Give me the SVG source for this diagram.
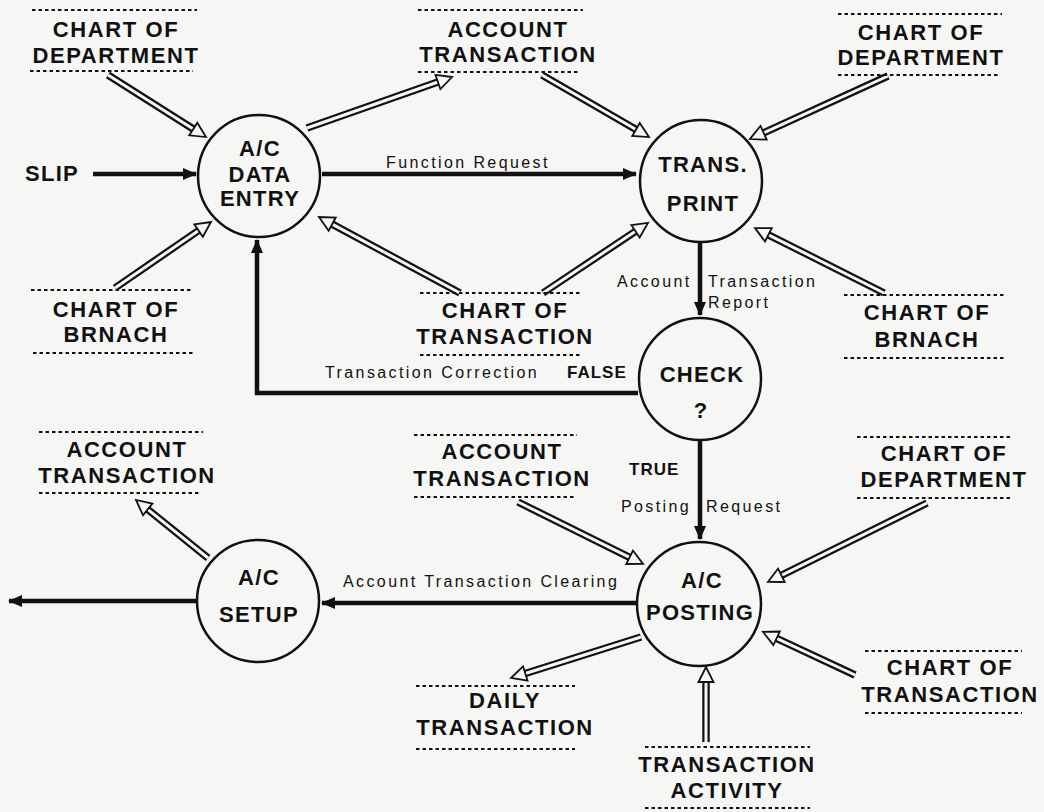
<svg xmlns="http://www.w3.org/2000/svg" width="1044" height="812" viewBox="0 0 1044 812">
<style>
text{font-family:"Liberation Sans",Arial,sans-serif;fill:#111}
.st{font-size:22px;font-weight:bold;letter-spacing:1.6px;text-anchor:middle}
.nd{font-size:22px;font-weight:bold;letter-spacing:1.3px;text-anchor:middle}
.lb{font-size:16px;letter-spacing:2.4px}
.bl{font-size:17px;font-weight:bold;letter-spacing:1px}
.dot{stroke:#111;stroke-width:2.2;stroke-dasharray:3.5 3;fill:none}
.c{fill:none;stroke:#111;stroke-width:2.5}
.so{stroke:#111;stroke-width:4.5;fill:none;marker-end:url(#fa)}
.ho{stroke:#111;stroke-width:7.5;fill:none}
.hi{stroke:#f6f6f4;stroke-width:3;fill:none;marker-end:url(#ha)}
</style>
<defs>
<marker id="fa" markerUnits="userSpaceOnUse" viewBox="-14 -7 16 14" refX="0" refY="0" markerWidth="16" markerHeight="14" orient="auto">
<polygon points="-13,-6 1,0 -13,6" fill="#111"/>
</marker>
<marker id="ha" markerUnits="userSpaceOnUse" viewBox="-2 -10 20 20" refX="0" refY="0" markerWidth="20" markerHeight="20" orient="auto" overflow="visible">
<polygon points="0,-7.5 15,0 0,7.5" fill="#f6f6f4" stroke="#111" stroke-width="1.8" stroke-linejoin="miter"/>
</marker>
</defs>
<rect width="1044" height="812" fill="#f6f6f4"/>

<g id="connectors">
<line class="so" x1="93" y1="174" x2="196" y2="174"/>
<line class="so" x1="322" y1="174" x2="636" y2="174"/>
<line class="so" x1="700" y1="243" x2="700" y2="315"/>
<line class="so" x1="700" y1="441" x2="700" y2="539"/>
<polyline class="so" points="638,393 257,393 257,240"/>
<line class="so" x1="637" y1="603" x2="322" y2="603"/>
<line class="so" x1="197" y1="601" x2="9" y2="601"/>
<path class="ho" d="M108,75 L193.3,129"/><path class="hi" d="M108,75 L193.3,129"/>
<path class="ho" d="M115,288 L198.6,230.5"/><path class="hi" d="M115,288 L198.6,230.5"/>
<path class="ho" d="M307,128 L437.9,82"/><path class="hi" d="M307,128 L437.9,82"/>
<path class="ho" d="M542,75 L636,129.5"/><path class="hi" d="M542,75 L636,129.5"/>
<path class="ho" d="M460,293 L332.2,224.1"/><path class="hi" d="M460,293 L332.2,224.1"/>
<path class="ho" d="M543,293 L635.5,231.3"/><path class="hi" d="M543,293 L635.5,231.3"/>
<path class="ho" d="M888,76 L763.6,132.8"/><path class="hi" d="M888,76 L763.6,132.8"/>
<path class="ho" d="M884,293 L768.4,234.8"/><path class="hi" d="M884,293 L768.4,234.8"/>
<path class="ho" d="M208,558 L147.7,509.4"/><path class="hi" d="M208,558 L147.7,509.4"/>
<path class="ho" d="M518,502 L629.6,557.3"/><path class="hi" d="M518,502 L629.6,557.3"/>
<path class="ho" d="M927,503 L781.4,575.3"/><path class="hi" d="M927,503 L781.4,575.3"/>
<path class="ho" d="M855,675 L776.6,638.3"/><path class="hi" d="M855,675 L776.6,638.3"/>
<path class="ho" d="M641,637 L525.3,673.5"/><path class="hi" d="M641,637 L525.3,673.5"/>
<path class="ho" d="M706,742 L706,682"/><path class="hi" d="M706,742 L706,682"/>
<text class="lb" x="386" y="168">Function Request</text>
<text class="lb" x="617" y="287">Account</text>
<text class="lb" x="708" y="287">Transaction</text>
<text class="lb" x="708" y="308">Report</text>
<text class="lb" x="325" y="378">Transaction Correction</text>
<text class="bl" x="567" y="378">FALSE</text>
<text class="bl" x="629" y="475">TRUE</text>
<text class="lb" x="621" y="512">Posting</text>
<text class="lb" x="706" y="512">Request</text>
<text class="lb" x="343" y="587">Account Transaction Clearing</text>
</g>

<g id="slip"><text class="nd" x="25" y="181" style="text-anchor:start">SLIP</text></g>

<g id="n-data-entry">
<circle class="c" cx="259" cy="176" r="61"/>
<text class="nd" x="260" y="156">A/C</text>
<text class="nd" x="260" y="182">DATA</text>
<text class="nd" x="260" y="206">ENTRY</text>
</g>
<g id="n-trans-print">
<circle class="c" cx="701" cy="181" r="61"/>
<text class="nd" x="703" y="172">TRANS.</text>
<text class="nd" x="703" y="211">PRINT</text>
</g>
<g id="n-check">
<circle class="c" cx="700" cy="379" r="61"/>
<text class="nd" x="702" y="382">CHECK</text>
<text class="nd" x="701" y="418">?</text>
</g>
<g id="n-posting">
<circle class="c" cx="699" cy="604" r="62"/>
<text class="nd" x="702" y="588">A/C</text>
<text class="nd" x="700" y="620">POSTING</text>
</g>
<g id="n-setup">
<circle class="c" cx="258" cy="601" r="61"/>
<text class="nd" x="259" y="585">A/C</text>
<text class="nd" x="259" y="622">SETUP</text>
</g>

<g id="s-dept-1">
<line class="dot" x1="32" y1="10" x2="197" y2="10"/>
<text class="st" x="116" y="37">CHART OF</text>
<text class="st" x="116" y="63">DEPARTMENT</text>
<line class="dot" x1="30" y1="71" x2="193" y2="71"/>
</g>
<g id="s-acct-1">
<line class="dot" x1="418" y1="10" x2="583" y2="10"/>
<text class="st" x="508" y="37">ACCOUNT</text>
<text class="st" x="508" y="62">TRANSACTION</text>
<line class="dot" x1="418" y1="72" x2="580" y2="72"/>
</g>
<g id="s-dept-2">
<line class="dot" x1="838" y1="14" x2="1002" y2="14"/>
<text class="st" x="921" y="40">CHART OF</text>
<text class="st" x="921" y="65">DEPARTMENT</text>
<line class="dot" x1="838" y1="75" x2="1000" y2="75"/>
</g>
<g id="s-branch-1">
<line class="dot" x1="31" y1="290" x2="192" y2="290"/>
<text class="st" x="116" y="317">CHART OF</text>
<text class="st" x="116" y="342">BRNACH</text>
<line class="dot" x1="33" y1="353" x2="193" y2="353"/>
</g>
<g id="s-trans-1">
<line class="dot" x1="420" y1="293" x2="582" y2="293"/>
<text class="st" x="505" y="318">CHART OF</text>
<text class="st" x="505" y="344">TRANSACTION</text>
<line class="dot" x1="420" y1="355" x2="582" y2="355"/>
</g>
<g id="s-branch-2">
<line class="dot" x1="844" y1="295" x2="1004" y2="295"/>
<text class="st" x="927" y="320">CHART OF</text>
<text class="st" x="927" y="347">BRNACH</text>
<line class="dot" x1="844" y1="358" x2="1004" y2="358"/>
</g>
<g id="s-acct-2">
<line class="dot" x1="39" y1="432" x2="203" y2="432"/>
<text class="st" x="127" y="457">ACCOUNT</text>
<text class="st" x="127" y="483">TRANSACTION</text>
<line class="dot" x1="39" y1="493" x2="201" y2="493"/>
</g>
<g id="s-acct-3">
<line class="dot" x1="414" y1="435" x2="577" y2="435"/>
<text class="st" x="502" y="459">ACCOUNT</text>
<text class="st" x="502" y="486">TRANSACTION</text>
<line class="dot" x1="414" y1="497" x2="575" y2="497"/>
</g>
<g id="s-dept-3">
<line class="dot" x1="857" y1="437" x2="1013" y2="437"/>
<text class="st" x="944" y="461">CHART OF</text>
<text class="st" x="944" y="487">DEPARTMENT</text>
<line class="dot" x1="857" y1="498" x2="1013" y2="498"/>
</g>
<g id="s-daily">
<line class="dot" x1="416" y1="686" x2="575" y2="686"/>
<text class="st" x="505" y="708">DAILY</text>
<text class="st" x="505" y="735">TRANSACTION</text>
<line class="dot" x1="416" y1="749" x2="575" y2="749"/>
</g>
<g id="s-trans-2">
<line class="dot" x1="865" y1="651" x2="1022" y2="651"/>
<text class="st" x="950" y="675">CHART OF</text>
<text class="st" x="950" y="702">TRANSACTION</text>
<line class="dot" x1="865" y1="713" x2="1022" y2="713"/>
</g>
<g id="s-activity">
<line class="dot" x1="645" y1="747" x2="810" y2="747"/>
<text class="st" x="727" y="772">TRANSACTION</text>
<text class="st" x="727" y="798">ACTIVITY</text>
<line class="dot" x1="645" y1="808" x2="810" y2="808"/>
</g>
</svg>
